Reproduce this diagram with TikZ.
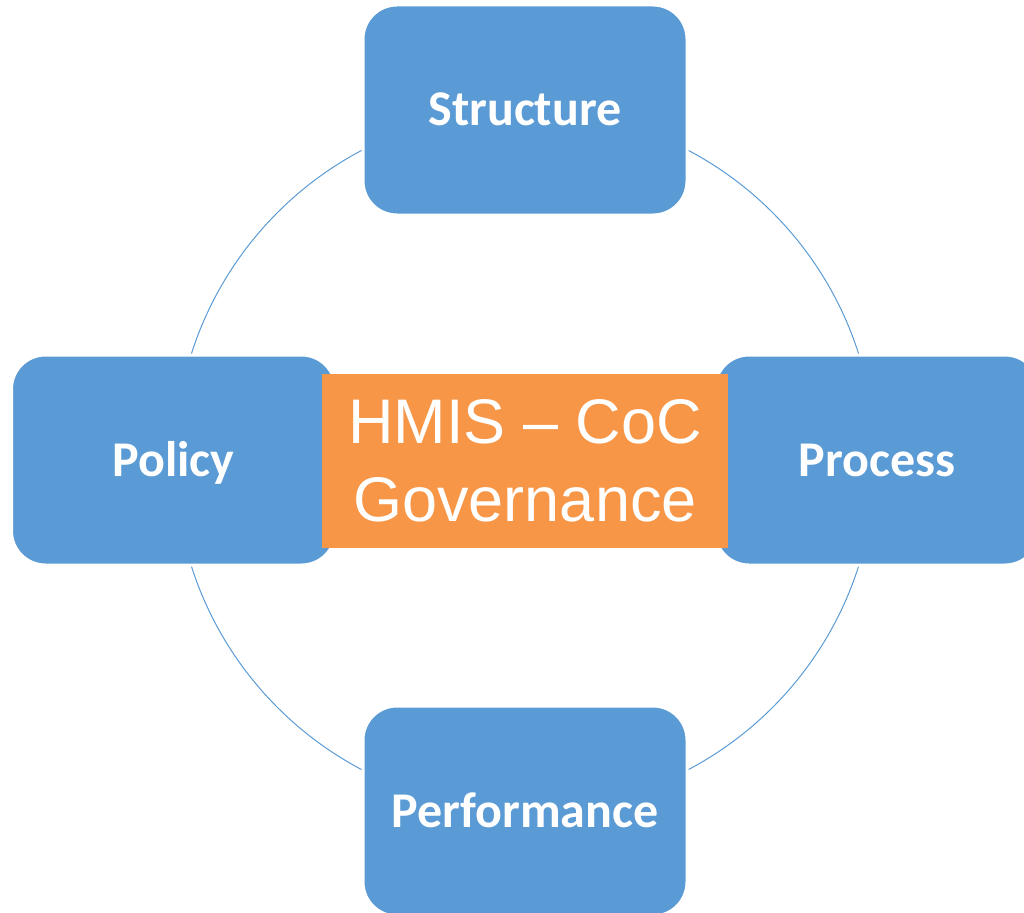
\documentclass[tikz,border=0pt]{standalone}
\usepackage{fontspec}
\setmainfont{Liberation Sans}
\newfontfamily\labelfont{Carlito}
\definecolor{boxblue}{HTML}{5B9BD5}
\definecolor{huborange}{HTML}{F79646}
\begin{document}
\begin{tikzpicture}[x=1pt,y=-1pt,
  pillar/.style={rectangle, rounded corners=34pt, fill=boxblue, draw=white,
    line width=3pt, minimum width=324pt, minimum height=210pt, inner sep=0pt,
    text height=32pt, text depth=0pt,
    text=white, font=\labelfont\bfseries\fontsize{50}{60}\selectfont},
  hub/.style={rectangle, fill=huborange, minimum width=406pt, minimum height=174pt,
    inner sep=0pt, text=white, align=center, font=\fontsize{63}{78}\selectfont}]
  \useasboundingbox (0,0) rectangle (1024,912);
  \clip (0,0) rectangle (1024,912);
  % ring joining the four pillars
  \node[circle, draw=boxblue, line width=1pt, minimum size=700pt, inner sep=0pt] (ring) at (525,460) {};
  % pillars
  \node[pillar] (structure) at (525,110) {Structure};
  \node[pillar] (policy) at (173.5,460) {Policy};
  \node[pillar] (process) at (877,460) {Process};
  \node[pillar] (performance) at (525,811) {Performance};
  % central label
  \node[hub] (hub) at (525,461) {HMIS -- CoC\\Governance};
\end{tikzpicture}
\end{document}
